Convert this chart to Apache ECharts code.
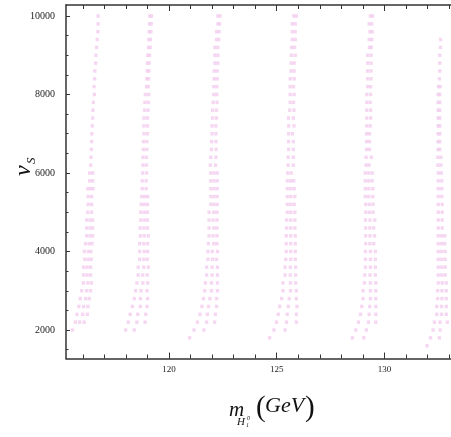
<!DOCTYPE html>
<html><head><meta charset="utf-8">
<script src="https://cdn.jsdelivr.net/npm/echarts@6/dist/echarts.min.js"></script>
<style>html,body{margin:0;padding:0;background:#fff}#c{width:451px;height:437px}</style>
</head><body><div id="c"></div>
<script>
// v_S rows (10000 down to 1600)
const vsRows = [10000,9800,9600,9400,9200,9000,8800,8600,8400,8200,
  8000,7800,7600,7400,7200,7000,6800,6600,6400,6200,
  6000,5800,5600,5400,5200,5000,4800,4600,4400,4200,
  4000,3800,3600,3400,3200,3000,2800,2600,2400,2200,
  2000,1800,1600];

// m_H values per row for each branch
const branch1 = [
  [116.71],[116.71],[116.70],[116.67],[116.64],[116.61],[116.60],[116.56],[116.55],[116.52],
  [116.54],[116.49],[116.47],[116.46],[116.44],[116.42],[116.41],[116.40],[116.38],[116.37],
  [116.32,116.46],[116.32,116.46],[116.23,116.36,116.48],[116.25,116.41],[116.25,116.41],[116.23,116.41],
  [116.18,116.34,116.46],[116.18,116.34,116.46],[116.18,116.34,116.46],[116.13,116.30,116.43],
  [116.07,116.26,116.38],[116.09,116.25,116.39],[116.04,116.20,116.36],[116.04,116.20,116.36],
  [116.03,116.23,116.40],[115.95,116.18,116.36],[115.88,116.13,116.30],[115.82,116.04,116.24],
  [115.73,115.99,116.21],[115.65,115.85,116.06],[115.52],[],[]
];
const branch2 = [
  [119.11,119.19],[119.10,119.18],[119.08,119.16],[119.06,119.14],[119.05,119.13],[119.02,119.10],[119.00,119.08],[118.99,119.07],[118.97,119.05],[118.96,119.04],
  [118.90,119.06],[118.88,119.04],[118.87,119.03],[118.84,119.00],[118.84,119.00],[118.84,119.00],[118.81,118.97],[118.81,118.97],[118.79,118.95],[118.79,118.95],
  [118.78,118.96],[118.76,118.94],[118.76,118.94],[118.73,118.87,119.01],[118.71,118.85,119.00],[118.69,118.85,119.00],
  [118.69,118.85,119.00],[118.66,118.84,119.00],[118.67,118.85,119.04],[118.64,118.83,119.00],
  [118.64,118.85,119.01],[118.64,118.83,118.99],[118.57,118.83,119.04],[118.57,118.78,118.99],
  [118.51,118.79,119.01],[118.45,118.70,118.98],[118.39,118.67,119.01],[118.30,118.67,118.98],
  [118.20,118.55,118.92],[118.11,118.51,118.89],[117.99,118.39],[],[]
];
const branch3 = [
  [122.27,122.37],[122.27,122.35],[122.21,122.33],[122.21,122.31],[122.13,122.27],[122.13,122.27],[122.13,122.27],[122.10,122.24],[122.10,122.24],[122.08,122.22],
  [122.08,122.22],[122.05,122.23],[122.03,122.21],[122.02,122.20],[122.00,122.18],[122.00,122.18],[121.98,122.18],[121.97,122.19],[121.94,122.18],[121.92,122.16],
  [121.94,122.09,122.24],[121.94,122.09,122.24],[121.94,122.09,122.24],[121.94,122.09,122.24],[121.94,122.09,122.24],
  [121.86,122.08,122.23],[121.86,122.05,122.23],[121.86,122.08,122.23],[121.86,122.05,122.23],[121.83,122.08,122.23],
  [121.81,122.01,122.25],[121.81,122.03,122.21],[121.75,122.00,122.25],[121.75,122.00,122.25],
  [121.69,121.97,122.25],[121.66,121.97,122.25],[121.60,121.90,122.21],[121.53,121.84,122.21],
  [121.44,121.78,122.15],[121.32,121.75,122.12],[121.16,121.62],[120.96],[]
];
const branch4 = [
  [125.79,125.91],[125.72,125.86],[125.72,125.86],[125.72,125.86],[125.69,125.83],[125.68,125.86],[125.67,125.81],[125.67,125.81],[125.63,125.81],[125.62,125.78],
  [125.63,125.81],[125.62,125.78],[125.60,125.80],[125.55,125.77],[125.56,125.80],[125.55,125.73],[125.55,125.77],[125.55,125.77],[125.53,125.77],[125.53,125.77],
  [125.51,125.67],[125.49,125.65,125.79],[125.49,125.65,125.81],[125.49,125.65,125.84],[125.49,125.65,125.81],
  [125.49,125.65,125.84],[125.46,125.65,125.84],[125.46,125.65,125.84],[125.44,125.65,125.86],[125.44,125.65,125.86],
  [125.44,125.65,125.86],[125.42,125.65,125.86],[125.39,125.63,125.88],[125.39,125.63,125.88],
  [125.29,125.64,125.88],[125.29,125.64,125.91],[125.23,125.58,125.91],[125.14,125.54,125.94],
  [125.07,125.49,125.91],[124.99,125.45,125.91],[124.87,125.39],[124.67],[]
];
const branch5 = [
  [129.35,129.45],[129.29,129.41],[129.33,129.43],[129.29,129.41],[129.31,129.39],[129.22,129.38],[129.22,129.38],[129.22,129.38],[129.22,129.38],[129.22,129.36],
  [129.18,129.36],[129.18,129.34],[129.18,129.36],[129.18,129.36],[129.18,129.34],[129.17,129.31],[129.17,129.31],[129.17,129.31],[129.15,129.39],[129.15,129.29],
  [129.11,129.27,129.43],[129.11,129.27,129.43],[129.11,129.27,129.46],[129.11,129.27,129.46],[129.13,129.30,129.47],
  [129.13,129.30,129.47],[129.12,129.33,129.55],[129.13,129.32,129.50],[129.13,129.33,129.54],[129.13,129.32,129.50],
  [129.12,129.35,129.58],[129.12,129.35,129.58],[129.12,129.35,129.58],[129.09,129.33,129.58],
  [129.07,129.35,129.60],[129.01,129.35,129.60],[129.01,129.35,129.60],[128.95,129.32,129.60],
  [128.89,129.29,129.60],[128.79,129.26,129.60],[128.67,129.16],[128.51,129.04],[]
];
const branch6 = [
  [],[],[],[132.61],[132.60],[132.57],[132.57],[132.57],[132.55],[132.51,132.59],
  [132.49,132.57],[132.49,132.57],[132.49,132.57],[132.49,132.57],[132.49,132.57],[132.49,132.57],[132.49,132.57],[132.49,132.57],[132.48,132.62],[132.48,132.62],
  [132.50,132.64],[132.50,132.66],[132.50,132.66],[132.50,132.66],[132.50,132.68],
  [132.50,132.68],[132.50,132.68],[132.50,132.68],[132.50,132.66,132.80],[132.50,132.66,132.80],
  [132.50,132.66,132.82],[132.50,132.66,132.82],[132.50,132.66,132.82],[132.50,132.66,132.82],
  [132.50,132.68,132.87],[132.47,132.67,132.87],[132.47,132.67,132.87],[132.43,132.65,132.87],
  [132.43,132.65,132.87],[132.32,132.58,132.92],[132.26,132.59],[132.14,132.55],[131.98]
];

const xMinorTicks = [116,117,118,119,120,121,122,123,124,125,126,127,128,129,130,131,132,133];
const xMajorTicks = [120,125,130];
const yMinorTicks = [1500,2000,2500,3000,3500,4000,4500,5000,5500,6000,6500,7000,7500,8000,8500,9000,9500,10000];
const yMajorTicks = [2000,4000,6000,8000,10000];

const X_MIN = 115.22, X_MAX = 133.09, Y_MIN = 1274, Y_MAX = 10280;
const PINK = '#f3cdef';
const AX = '#333';
const SERIF = '"Liberation Serif", "DejaVu Serif", serif';

function toPoints(branch) {
  const pts = [];
  branch.forEach((xs, i) => xs.forEach(x => pts.push([x, vsRows[i]])));
  return pts;
}

const chart = echarts.init(document.getElementById('c'), null, {renderer: 'canvas'});

function xAx(pos, ticks, len, showLine, labels) {
  return {
    type: 'value', position: pos, min: X_MIN, max: X_MAX,
    axisLine: {show: showLine, onZero: false, lineStyle: {color: AX, width: 1.5}},
    axisTick: {show: true, inside: true, length: len, customValues: ticks, lineStyle: {color: AX, width: 1}},
    axisLabel: labels ? {show: true, customValues: labels, margin: 7, color: '#222', fontFamily: SERIF, fontSize: 9,
                         formatter: v => String(v)}
                      : {show: false},
    splitLine: {show: false}
  };
}
function yAx(ticks, len, showLine, labels) {
  return {
    type: 'value', position: 'left', min: Y_MIN, max: Y_MAX,
    axisLine: {show: showLine, onZero: false, lineStyle: {color: AX, width: 1.5}},
    axisTick: {show: true, inside: true, length: len, customValues: ticks, lineStyle: {color: AX, width: 1}},
    axisLabel: labels ? {show: true, customValues: labels, margin: 11, color: '#222', fontFamily: SERIF, fontSize: 10,
                         formatter: v => String(v)}
                      : {show: false},
    splitLine: {show: false}
  };
}

const branches = [branch1, branch2, branch3, branch4, branch5, branch6];

chart.setOption({
  animation: false,
  backgroundColor: '#fff',
  grid: {left: 66, right: 0, top: 5, bottom: 78.5, containLabel: false},
  xAxis: [
    xAx('bottom', xMinorTicks, 4, true, xMajorTicks),
    xAx('bottom', xMajorTicks, 6, false, null),
    xAx('top', xMinorTicks, 4, true, null),
    xAx('top', xMajorTicks, 6, false, null)
  ],
  yAxis: [
    yAx(yMinorTicks, 2.5, true, yMajorTicks),
    yAx(yMajorTicks, 4, false, null)
  ],
  series: branches.map(b => ({
    type: 'scatter', xAxisIndex: 0, yAxisIndex: 0,
    symbol: 'rect', symbolSize: [3.3, 3.5],
    itemStyle: {color: PINK},
    data: toPoints(b)
  })),
  graphic: [
    {type: 'text', x: 229, y: 410, style: {text: 'm', font: 'italic 21px ' + SERIF, fill: '#111', verticalAlign: 'middle'}},
    {type: 'text', x: 237, y: 422, style: {text: 'H', font: 'italic 11px ' + SERIF, fill: '#111', verticalAlign: 'middle'}},
    {type: 'text', x: 246, y: 425.5, style: {text: '1', font: 'italic 6px ' + SERIF, fill: '#111', verticalAlign: 'middle'}},
    {type: 'text', x: 247, y: 418, style: {text: '0', font: 'italic 6px ' + SERIF, fill: '#111', verticalAlign: 'middle'}},
    {type: 'text', x: 256, y: 408, style: {text: '(', font: '29px ' + SERIF, fill: '#111', verticalAlign: 'middle'}},
    {type: 'text', x: 265, y: 406, style: {text: 'GeV', font: 'italic 22px ' + SERIF, fill: '#111', verticalAlign: 'middle'}},
    {type: 'text', x: 305, y: 408, style: {text: ')', font: '29px ' + SERIF, fill: '#111', verticalAlign: 'middle'}},
    {type: 'text', x: 24, y: 176, rotation: Math.PI / 2, style: {text: 'v', font: 'italic 24px ' + SERIF, fill: '#111', verticalAlign: 'middle'}},
    {type: 'text', x: 32, y: 164, rotation: Math.PI / 2, style: {text: 'S', font: 'italic 13px ' + SERIF, fill: '#111', verticalAlign: 'middle'}}
  ]
});
</script></body></html>
